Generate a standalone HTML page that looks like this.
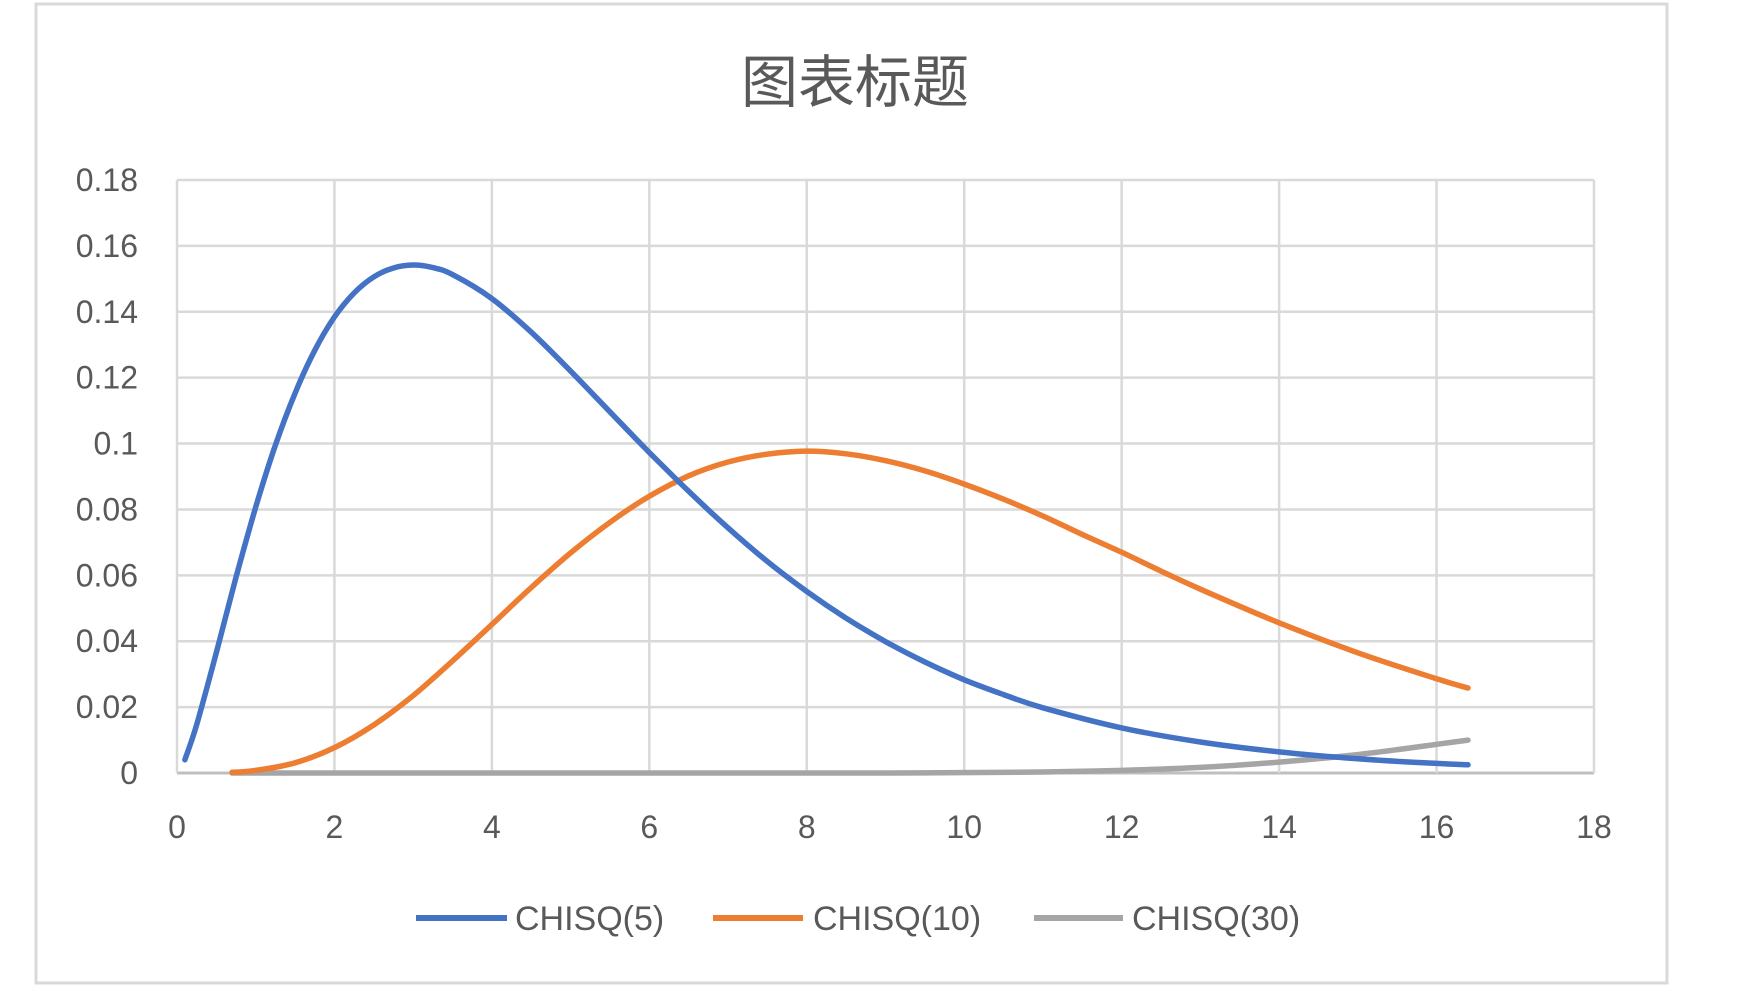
<!DOCTYPE html>
<html><head><meta charset="utf-8"><style>
body{margin:0;background:#fff;width:1748px;height:998px;overflow:hidden}
svg text{font-family:"Liberation Sans","Noto Sans CJK SC",sans-serif;fill:#595959}
</style></head><body>
<svg id="chart" width="1748" height="998">
<rect x="36" y="4" width="1631" height="979" fill="#fff" stroke="#d9d9d9" stroke-width="3"/>
<text x="855" y="102" font-size="57" text-anchor="middle">图表标题</text>
<g id="grid"></g><g id="series"></g><g id="ticks"></g>
<g>
<line x1="416" y1="918" x2="507" y2="918" stroke="#4472C4" stroke-width="6"/>
<text x="515" y="930" font-size="34">CHISQ(5)</text>
<line x1="713" y1="918" x2="803" y2="918" stroke="#ED7D31" stroke-width="6"/>
<text x="813" y="930" font-size="34">CHISQ(10)</text>
<line x1="1034" y1="918" x2="1123" y2="918" stroke="#A5A5A5" stroke-width="6"/>
<text x="1132" y="930" font-size="34">CHISQ(30)</text>
</g>
</svg>
<script>
const xTicks=[0,2,4,6,8,10,12,14,16,18];
const yTicks=[0,0.02,0.04,0.06,0.08,0.1,0.12,0.14,0.16,0.18];
const yTickLabels=["0","0.02","0.04","0.06","0.08","0.1","0.12","0.14","0.16","0.18"];
const x5=[0.1,0.25,0.5,0.75,1,1.25,1.5,1.75,2,2.25,2.5,2.75,3,3.25,3.5,4,4.5,5,5.5,6,6.5,7,7.5,8,8.5,9,9.5,10,10.5,11,12,13,14,15,16,16.4];
const y5=[0.004,0.0147,0.0366,0.0594,0.0807,0.0995,0.1153,0.1283,0.1384,0.1457,0.1506,0.1533,0.1542,0.1534,0.1513,0.144,0.1338,0.122,0.1096,0.0973,0.0855,0.0744,0.0642,0.0551,0.047,0.0399,0.0337,0.0283,0.0238,0.0198,0.0137,0.0094,0.0064,0.0043,0.0029,0.0025];
const x10=[0.7,1,1.5,2,2.5,3,3.5,4,4.5,5,5.5,6,6.5,7,7.5,8,8.5,9,9.5,10,10.5,11,11.5,12,12.5,13,14,15,16,16.4];
const y10=[0.0002,0.0008,0.0031,0.0077,0.0146,0.0235,0.034,0.0451,0.0563,0.0668,0.0761,0.084,0.0902,0.0944,0.0968,0.0977,0.0969,0.0948,0.0917,0.0877,0.0831,0.078,0.0724,0.067,0.0613,0.0558,0.0456,0.0365,0.0286,0.0258];
const x30=[0.7,3,6,9,9.7,11,12,13,14,15,16,16.4];
const y30=[0,0,0,0,0.0001,0.0003,0.0008,0.0017,0.0033,0.0056,0.0087,0.01];
const L=177,R=1594,T=180,B=773;
const sx=v=>L+(v-0)/(18-0)*(R-L);
const sy=v=>B-(v-0)/(0.18)*(B-T);
const NS="http://www.w3.org/2000/svg";
const grid=document.getElementById('grid'),ticks=document.getElementById('ticks'),ser=document.getElementById('series');
function mk(tag,attrs,parent){const e=document.createElementNS(NS,tag);for(const k in attrs)e.setAttribute(k,attrs[k]);parent.appendChild(e);return e;}
yTicks.forEach((v,i)=>{
  const g=mk('line',{x1:L,x2:R,y1:sy(v),y2:sy(v),stroke:i===0?'#bfbfbf':'#d9d9d9','stroke-width':i===0?3:2.5},grid);
  
  
  const t=mk('text',{x:138,y:sy(v)+11,'font-size':32,'text-anchor':'end'},ticks);
  t.textContent=yTickLabels[i];
  
  
});
xTicks.forEach((v,i)=>{
  const g=mk('line',{x1:sx(v),x2:sx(v),y1:T,y2:B,stroke:'#d9d9d9','stroke-width':2.5},grid);
  
  
  const t=mk('text',{x:sx(v),y:838,'font-size':32,'text-anchor':'middle'},ticks);
  t.textContent=String(v);
  
  
});
function line(xs,ys,color,name){
  const P=xs.map((x,i)=>[sx(x),sy(ys[i])]);
  let d='M'+P[0][0].toFixed(1)+','+P[0][1].toFixed(1);
  for(let i=0;i<P.length-1;i++){
    const p0=P[i-1]||P[i],p1=P[i],p2=P[i+1],p3=P[i+2]||P[i+1];
    const c1=[p1[0]+(p2[0]-p0[0])/6,p1[1]+(p2[1]-p0[1])/6];
    const c2=[p2[0]-(p3[0]-p1[0])/6,p2[1]-(p3[1]-p1[1])/6];
    d+=' C'+c1.map(v=>v.toFixed(1)).join(',')+' '+c2.map(v=>v.toFixed(1)).join(',')+' '+p2.map(v=>v.toFixed(1)).join(',');
  }
  const p=mk('path',{d:d,fill:'none',stroke:color,'stroke-width':5.5,'stroke-linejoin':'round','stroke-linecap':'round'},ser);
  
  
}
line(x30,y30,'#A5A5A5','series-chisq30');
line(x10,y10,'#ED7D31','series-chisq10');
line(x5,y5,'#4472C4','series-chisq5');
</script>
</body></html>
